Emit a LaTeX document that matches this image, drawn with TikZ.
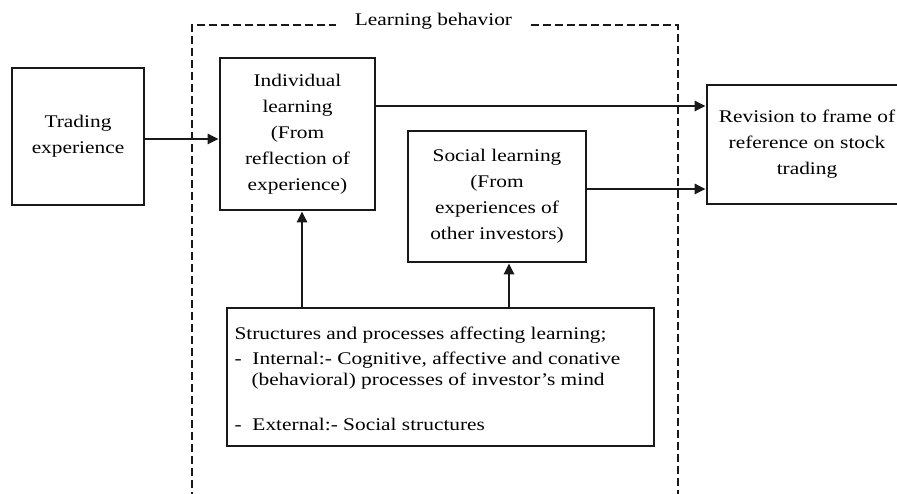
\documentclass[tikz,border=0pt]{standalone}
\usepackage{fontspec}
\setmainfont{Liberation Serif}[FakeStretch=1.2]
\usetikzlibrary{arrows.meta,calc}
\tikzset{
  boxnode/.style={draw=black!90, line width=2.7pt, inner sep=0pt, align=center,
    font=\fontsize{17.8pt}{26pt}\selectfont, text=black},
  arr/.style={line width=2.7pt, draw=black!90, -{Triangle[length=11pt,width=10pt]}},
  dashbox/.style={line width=2.4pt, draw=black!90, dash pattern=on 8pt off 4pt},
  lbl/.style={font=\fontsize{17.8pt}{26pt}\selectfont, text=black, inner sep=0pt}
}
\begin{document}
\begin{tikzpicture}[x=1pt,y=-1pt]
\useasboundingbox (0,0) rectangle (897,494);
% dashed frame
\coordinate (dbl) at (192,500);
\coordinate (dtl) at (192,25);
\coordinate (dtla) at (336,25);
\coordinate (dtrb) at (531,25);
\coordinate (dtr) at (678,25);
\coordinate (dbr) at (678,500);
\draw[dashbox] (dbl) -- (dtl) -- (dtla);
\draw[dashbox] (dtrb) -- (dtr) -- (dbr);
\node[lbl] (lb) at (433.5,21) {Learning behavior};
% boxes
\node[boxnode, minimum width=132pt, minimum height=137pt] (trade) at (78,136.5) {Trading\\experience};
\node[boxnode, minimum width=155pt, minimum height=152pt] (ind) at (297.5,134) {Individual\\learning\\(From\\reflection of\\experience)};
\node[boxnode, minimum width=178pt, minimum height=131pt] (soc) at (497,196.5) {Social learning\\(From\\experiences of\\other investors)};
\node[boxnode, minimum width=200pt, minimum height=119pt] (rev) at (807,144.5) {Revision to frame of\\reference on stock\\trading};
\node[boxnode, minimum width=427pt, minimum height=138pt, align=left,
      font=\fontsize{17.8pt}{24.5pt}\selectfont] (str) at (440.5,377)
 {\hspace*{-2pt}\parbox[c]{410pt}{\raggedright
  \vspace*{4pt}Structures and processes affecting learning;\\
  \makebox[18pt][l]{-}Internal:- Cognitive, affective and conative\\[-3pt]
  \hspace*{17pt}(behavioral) processes of investor’s mind\\[20pt]
  \makebox[18pt][l]{-}External:- Social structures}};
% connectors
\draw[arr] (trade.east |- 0,139) -- (ind.west |- 0,139);
\draw[arr] (ind.east |- 0,106) -- (rev.west |- 0,106);
\draw[arr] (soc.east |- 0,189) -- (rev.west |- 0,189);
\draw[arr] (str.north -| 302,0) -- (ind.south -| 302,0);
\draw[arr] (str.north -| 509,0) -- (soc.south -| 509,0);
\end{tikzpicture}
\end{document}
